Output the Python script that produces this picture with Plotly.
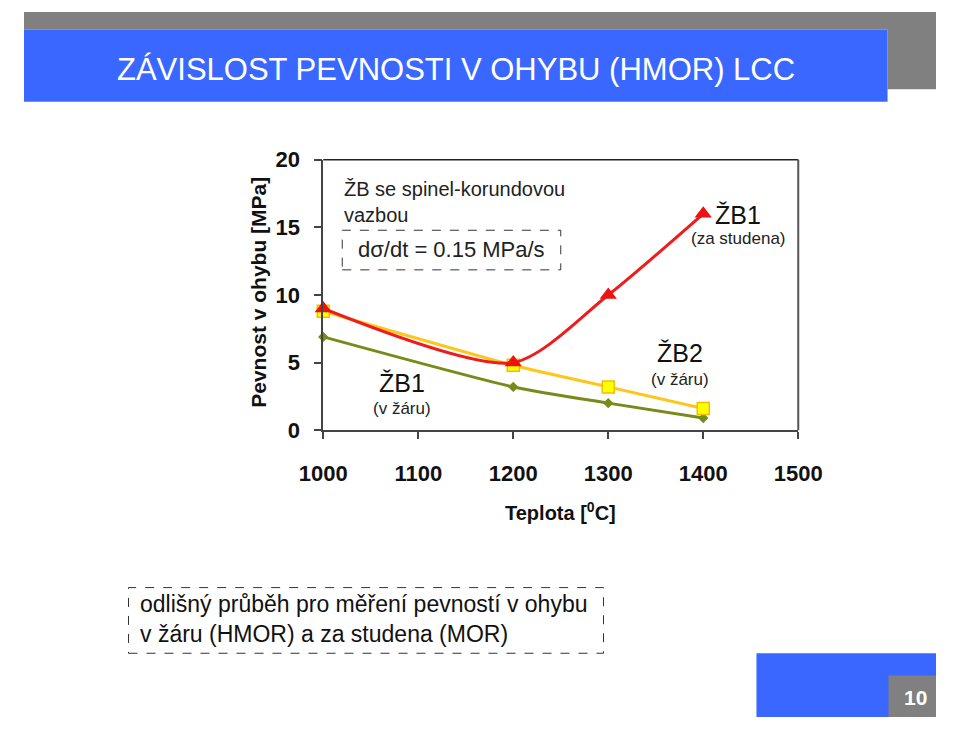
import plotly.graph_objects as go

W, H = 960, 730

temps = [1000, 1200, 1300, 1400]
zb1_cold = [9.0, 5.0, 10.0, 16.0]   # ŽB1 (za studena)
zb2_hot = [8.8, 4.8, 3.2, 1.6]      # ŽB2 (v žáru)
zb1_hot = [6.9, 3.2, 2.0, 0.9]      # ŽB1 (v žáru)

x_ticks = [1000, 1100, 1200, 1300, 1400, 1500]
y_ticks = [0, 5, 10, 15, 20]


def px(x):
    return x / W


def py(y):
    return 1 - y / H


BLUE = "#3a67ff"
GRAY = "#808080"
FONT = "Liberation Sans, Arial, sans-serif"

fig = go.Figure()

fig.add_trace(go.Scatter(
    x=temps, y=zb1_hot, mode="lines+markers", cliponaxis=False,
    line=dict(color="#7a8a1a", width=3, shape="spline", smoothing=0.6),
    marker=dict(symbol="diamond", size=8, color="#7a8a1a"),
    showlegend=False))
fig.add_trace(go.Scatter(
    x=temps, y=zb2_hot, mode="lines+markers", cliponaxis=False,
    line=dict(color="#ffc61a", width=3, shape="spline", smoothing=0.6),
    marker=dict(symbol="square", size=12, color="#ffff00",
                line=dict(color="#f0c000", width=1.5)),
    showlegend=False))
fig.add_trace(go.Scatter(
    x=temps, y=zb1_cold, mode="lines+markers", cliponaxis=False,
    line=dict(color="#ee1c1c", width=3, shape="spline", smoothing=0.75),
    marker=dict(symbol="triangle-up", size=15, color="#ee1111"),
    showlegend=False))

shapes = [
    # header bars
    dict(type="rect", xref="paper", yref="paper", x0=0, x1=1, y0=py(18), y1=1,
         fillcolor=GRAY, line=dict(width=0), layer="below"),
    dict(type="rect", xref="paper", yref="paper", x0=px(909), x1=1, y0=py(80), y1=1,
         fillcolor=GRAY, line=dict(width=0), layer="below"),
    dict(type="rect", xref="paper", yref="paper", x0=0, x1=px(909), y0=py(93), y1=py(18),
         fillcolor=BLUE, line=dict(width=0), layer="below"),
    # footer bars
    dict(type="rect", xref="paper", yref="paper", x0=px(771), x1=1, y0=0, y1=py(664),
         fillcolor=BLUE, line=dict(width=0), layer="below"),
    dict(type="rect", xref="paper", yref="paper", x0=px(910), x1=1, y0=0, y1=py(687),
         fillcolor=GRAY, line=dict(width=0), layer="below"),
    # dashed boxes
    dict(type="rect", xref="paper", yref="paper", x0=px(335), x1=px(565), y0=py(267), y1=py(226),
         line=dict(color="#333333", width=1, dash="dash")),
    dict(type="rect", xref="paper", yref="paper", x0=px(110), x1=px(610), y0=py(664), y1=py(596),
         line=dict(color="#333333", width=1, dash="dash")),
    # plot frame top/right
    dict(type="line", xref="paper", yref="paper", x0=px(315), x1=px(815), y0=py(153), y1=py(153),
         line=dict(color="#222222", width=1.5)),
    dict(type="line", xref="paper", yref="paper", x0=px(815), x1=px(815), y0=py(433), y1=py(153),
         line=dict(color="#555555", width=2)),
]

ann = []


def text(x, y, s, size, color="#111111", bold=False, xanchor="center", align="center", angle=0):
    if bold:
        s = "<b>" + s + "</b>"
    ann.append(dict(xref="paper", yref="paper", x=px(x), y=py(y), text=s, showarrow=False,
                    xanchor=xanchor, yanchor="middle", align=align, textangle=angle,
                    font=dict(size=size, color=color, family=FONT)))


text(96, 60, "ZÁVISLOST PEVNOSTI V OHYBU (HMOR) LCC", 31, color="white", xanchor="left")
text(938, 710, "10", 21, color="white", bold=True)

text(335, 197, "ŽB se spinel-korundovou<br>vazbou", 20, color="#222222", xanchor="left", align="left")
text(450, 246, "dσ/dt = 0.15 MPa/s", 22, color="#222222")
text(752, 210, "ŽB1", 25)
text(752, 235, "(za studena)", 17, color="#222222")
text(690, 353, "ŽB2", 25)
text(690, 381, "(v žáru)", 17, color="#222222")
text(398, 384, "ŽB1", 25)
text(398, 411, "(v žáru)", 17, color="#222222")

text(565, 517, "Teplota [<sup>0</sup>C]", 20, bold=True)
text(246, 290, "Pevnost v ohybu [MPa]", 21, bold=True, angle=-90)

text(120, 629, "odlišný průběh pro měření pevností v ohybu<br>v žáru (HMOR) a za studena (MOR)",
     23, color="#111111", xanchor="left", align="left")

fig.update_layout(
    width=W, height=H,
    margin=dict(l=0, r=0, t=0, b=0),
    paper_bgcolor="white", plot_bgcolor="white",
    shapes=shapes, annotations=ann,
    xaxis=dict(domain=[px(315), px(815)], range=[1000, 1500], tickvals=x_ticks,
               ticktext=["<b>%d</b>" % v for v in x_ticks],
               showgrid=False, zeroline=False, showline=True, linecolor="#444444", linewidth=2,
               ticks="outside", ticklen=7, tickcolor="#444444", tickwidth=1.5,
               ticklabelstandoff=15,
               tickfont=dict(size=22, color="#111111", family=FONT)),
    yaxis=dict(domain=[py(433), py(153)], range=[0, 20], tickvals=y_ticks,
               ticktext=["<b>%d</b>" % v for v in y_ticks],
               showgrid=False, zeroline=False, showline=True, linecolor="#444444", linewidth=1.5,
               ticks="outside", ticklen=8, tickcolor="#444444", tickwidth=1.5,
               ticklabelstandoff=9,
               tickfont=dict(size=22, color="#111111", family=FONT)),
)

fig.write_html("out.html")
